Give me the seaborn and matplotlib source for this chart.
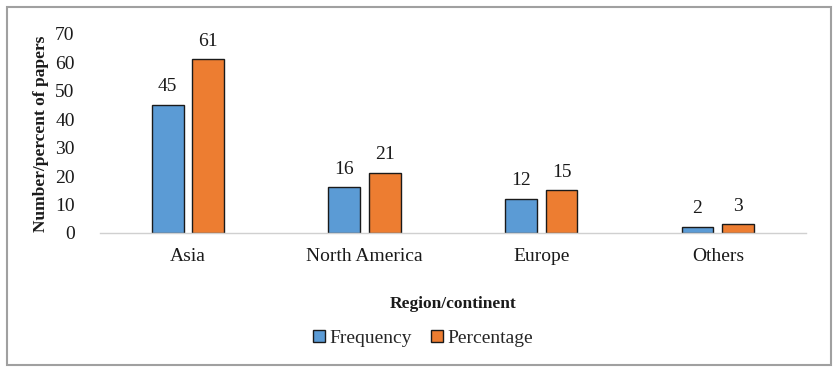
import matplotlib
matplotlib.use("Agg")
import matplotlib.pyplot as plt
import seaborn as sns
import pandas as pd
from matplotlib.patches import Rectangle, Patch

regions = ["Asia", "North America", "Europe", "Others"]
frequency = [45, 16, 12, 2]
percentage = [61, 21, 15, 3]
series_names = ["Frequency", "Percentage"]
yticks = [0, 10, 20, 30, 40, 50, 60, 70]

df = pd.DataFrame({
    "Region": regions * 2,
    "Series": [series_names[0]] * 4 + [series_names[1]] * 4,
    "Value": frequency + percentage,
})

sns.set_theme(style="white")
plt.rcParams["font.family"] = ["Liberation Serif", "DejaVu Serif"]

colors = ["#5B9BD5", "#ED7D31"]
fig = plt.figure(figsize=(8.38, 3.72), dpi=100)
ax = fig.add_axes([0.119, 0.374, 0.843, 0.535])

sns.barplot(data=df, x="Region", y="Value", hue="Series", order=regions,
            hue_order=series_names, palette=colors, width=0.46, gap=0.22,
            edgecolor="#1a1a1a", linewidth=1.0, saturation=1, ax=ax, legend=False)

for cont in ax.containers:
    ax.bar_label(cont, padding=7, fontsize=14, color="#1a1a1a")

ax.set_ylim(0, 70)
ax.set_xlim(-0.5, 3.5)
ax.set_yticks(yticks)
ax.tick_params(axis="y", labelsize=14, pad=18, length=0, colors="#1a1a1a")
ax.tick_params(axis="x", labelsize=14, pad=11, length=0, colors="#1a1a1a")
for s in ["left", "right", "top"]:
    ax.spines[s].set_visible(False)
ax.spines["bottom"].set_color("#d0d0d0")
ax.spines["bottom"].set_linewidth(1.0)

ax.set_ylabel("Number/percent of papers", fontsize=12.5, fontweight="bold", color="#1a1a1a")
ax.set_xlabel("Region/continent", fontsize=12.5, fontweight="bold", labelpad=22, color="#1a1a1a")
ax.yaxis.set_label_coords(-0.072, 0.5)

handles = [Patch(facecolor=c, edgecolor="#1a1a1a", linewidth=1.0) for c in colors]
fig.legend(handles, series_names, loc="center", bbox_to_anchor=(0.505, 0.091),
           ncol=2, frameon=False, fontsize=14, handlelength=0.6, handleheight=0.6,
           handletextpad=0.25, columnspacing=1.0)

fig.patches.append(Rectangle((0.008, 0.018), 0.984, 0.963, transform=fig.transFigure,
                             fill=False, edgecolor="#a0a0a0", linewidth=1.5))

fig.savefig("out.png", dpi=100)
